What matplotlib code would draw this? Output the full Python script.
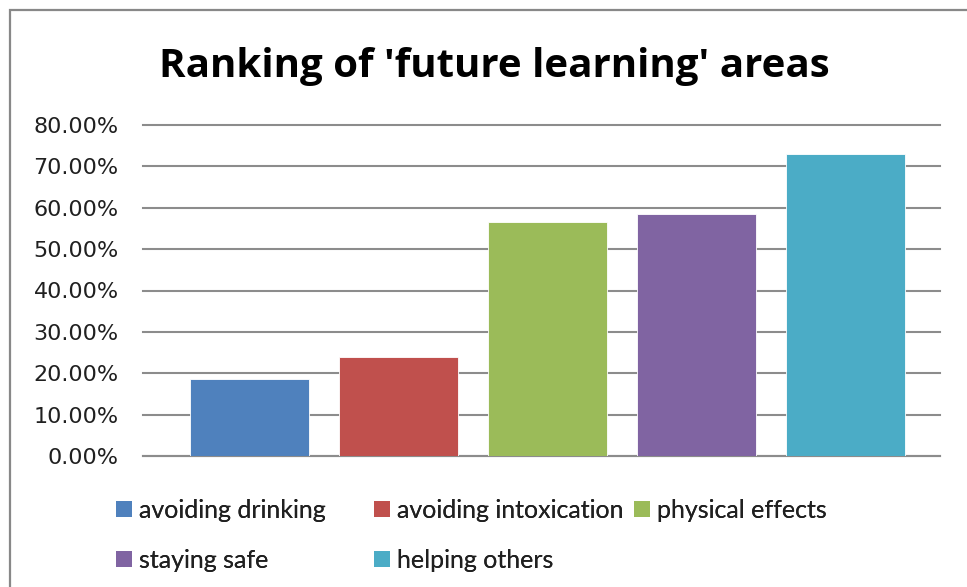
import matplotlib
matplotlib.use("Agg")
import matplotlib.pyplot as plt
from matplotlib.patches import Rectangle, Patch
from matplotlib.ticker import FuncFormatter, MultipleLocator

categories = ["avoiding drinking", "avoiding intoxication", "physical effects",
              "staying safe", "helping others"]
values = [0.187, 0.240, 0.566, 0.585, 0.730]
colors = ["#4F81BD", "#C0504D", "#9BBB59", "#8064A2", "#4BACC6"]
title = "Ranking of 'future learning' areas"

plt.rcParams['font.family'] = ['Lato', 'DejaVu Sans']

W, H = 967, 587
fig = plt.figure(figsize=(W / 100, H / 100), dpi=100)
fig.patch.set_facecolor("white")

ax = fig.add_axes([143 / W, 1 - 456 / H, (940 - 143) / W, (456 - 125) / H])
x = list(range(len(categories)))
bars = ax.bar(x, values, width=0.8, color=colors, edgecolor="#ffffff",
              linewidth=0.6, zorder=3)
ax.set_xlim(-0.715, 4.634)
ax.set_ylim(0, 0.8)
ax.yaxis.set_major_locator(MultipleLocator(0.1))
ax.yaxis.set_major_formatter(FuncFormatter(lambda v, p: f"{v*100:.2f}%"))
ax.set_xticks([])
ax.grid(axis="y", color="#8c8c8c", linewidth=1.5, zorder=0)
for ln in ax.get_ygridlines():
    ln.set_clip_on(False)
for s in ["left", "right", "top"]:
    ax.spines[s].set_visible(False)
ax.spines["bottom"].set_color("#8c8c8c")
ax.spines["bottom"].set_linewidth(1.5)
ax.tick_params(axis="y", length=0, pad=17.5, labelsize=16, labelcolor="#202020")
for t in ax.get_yticklabels():
    t.set_fontfamily(["DejaVu Sans"])

fig.text(494 / W, 1 - 77 / H, title, ha="center", va="baseline",
         fontsize=29, fontweight="bold", color="black",
         family=["Open Sans", "DejaVu Sans"])

# outer chart border
fig.add_artist(Rectangle((10 / W, -0.5), 2.0, (1 - 10 / H) + 0.5,
                         transform=fig.transFigure, fill=False,
                         edgecolor="#888888", linewidth=1.6))

handles = [Patch(facecolor=c, edgecolor="none") for c in colors]
cols = [[0, 3], [1, 4], [2]]
col_x = [116, 374, 634]
for cx, idx in zip(col_x, cols):
    lg = fig.legend([handles[i] for i in idx], [categories[i] for i in idx],
                    loc="upper left", bbox_to_anchor=(cx / W, 1 - 499 / H),
                    frameon=False, fontsize=18, handlelength=0.62,
                    handleheight=0.62, handletextpad=0.3, labelspacing=1.08,
                    borderpad=0, borderaxespad=0, labelcolor="#202020")
    fig.add_artist(lg)

fig.savefig("out.png", dpi=100, facecolor="white")
